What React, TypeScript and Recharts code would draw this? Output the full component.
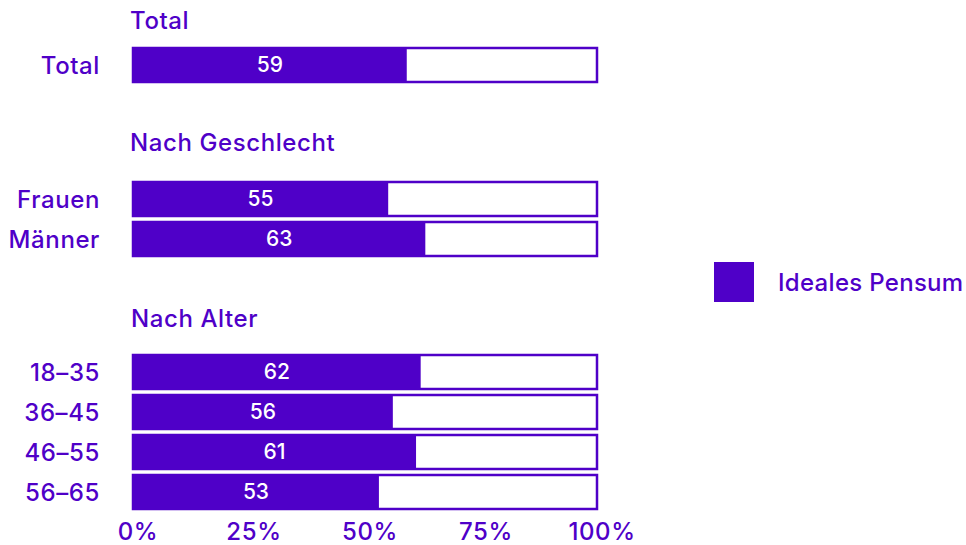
import React from "react";
import { BarChart, Bar, XAxis, YAxis, LabelList } from "recharts";

const PURPLE = "#4F00C8";
const FONT = "Inter, 'Noto Sans', sans-serif";

const totalCategories = ["Total"];
const totalValues = [59];
const genderCategories = ["Frauen", "Männer"];
const genderValues = [55, 63];
const ageCategories = ["18–35", "36–45", "46–55", "56–65"];
const ageValues = [62, 56, 61, 53];
const xTicks = [0, 25, 50, 75, 100];
const headings = ["Total", "Nach Geschlecht", "Nach Alter"];
const seriesName = "Ideales Pensum";

const build = (cats: string[], vals: number[]) =>
  cats.map((c, i) => ({ cat: c, value: vals[i] }));

const textStyle = { fontSize: 24, fontFamily: FONT, fontWeight: 500, letterSpacing: 0.6 };

function Group({
  cats,
  vals,
  top,
  showX,
}: {
  cats: string[];
  vals: number[];
  top: number;
  showX?: boolean;
}) {
  const data = build(cats, vals);
  const h = cats.length * 40 + (showX ? 33 : 0);
  return (
    <div style={{ position: "absolute", left: 0, top }}>
      <BarChart
        width={966}
        height={h}
        data={data}
        layout="vertical"
        margin={{ top: 0, right: 369, bottom: 0, left: 0 }}
        barCategoryGap={0}
      >
        <XAxis
          type="number"
          domain={[0, 100]}
          ticks={xTicks}
          hide={!showX}
          axisLine={false}
          tickLine={false}
          tickSize={0}
          tickMargin={11}
          height={33}
          interval={0}
          tickFormatter={(v: number) => `${v}%`}
          tick={{ fill: PURPLE, ...textStyle, dx: 5 }}
        />
        <YAxis
          type="category"
          dataKey="cat"
          width={133}
          axisLine={false}
          tickLine={false}
          tickSize={0}
          tickMargin={33}
          tick={{ fill: PURPLE, ...textStyle }}
        />
        <Bar
          dataKey="value"
          name={seriesName}
          fill={PURPLE}
          barSize={34}
          isAnimationActive={false}
          background={{ fill: "#ffffff", stroke: PURPLE, strokeWidth: 2.5 }}
        >
          <LabelList
            dataKey="value"
            position="center"
            fill="#ffffff"
            style={{ fontSize: 21, fontFamily: FONT, fontWeight: 500 }}
          />
        </Bar>
      </BarChart>
    </div>
  );
}

const headingStyle = (top: number, left: number): React.CSSProperties => ({
  position: "absolute",
  top,
  left,
  color: PURPLE,
  ...textStyle,
  lineHeight: "28px",
  whiteSpace: "nowrap",
});

export default function App() {
  return (
    <div style={{ position: "absolute", left: 0, top: 0, width: 966, height: 545, background: "#fff", overflow: "hidden" }}>
      <div style={headingStyle(7, 130)}>{headings[0]}</div>
      <div style={headingStyle(129, 130)}>{headings[1]}</div>
      <div style={headingStyle(305, 131)}>{headings[2]}</div>
      <Group cats={totalCategories} vals={totalValues} top={45} />
      <Group cats={genderCategories} vals={genderValues} top={179} />
      <Group cats={ageCategories} vals={ageValues} top={352} showX />
      <div style={{ position: "absolute", left: 714, top: 262, display: "flex", alignItems: "center" }}>
        <div style={{ width: 40, height: 40, background: PURPLE }} />
        <span style={{ marginLeft: 24, color: PURPLE, ...textStyle, letterSpacing: 0.3, whiteSpace: "nowrap" }}>{seriesName}</span>
      </div>
    </div>
  );
}
